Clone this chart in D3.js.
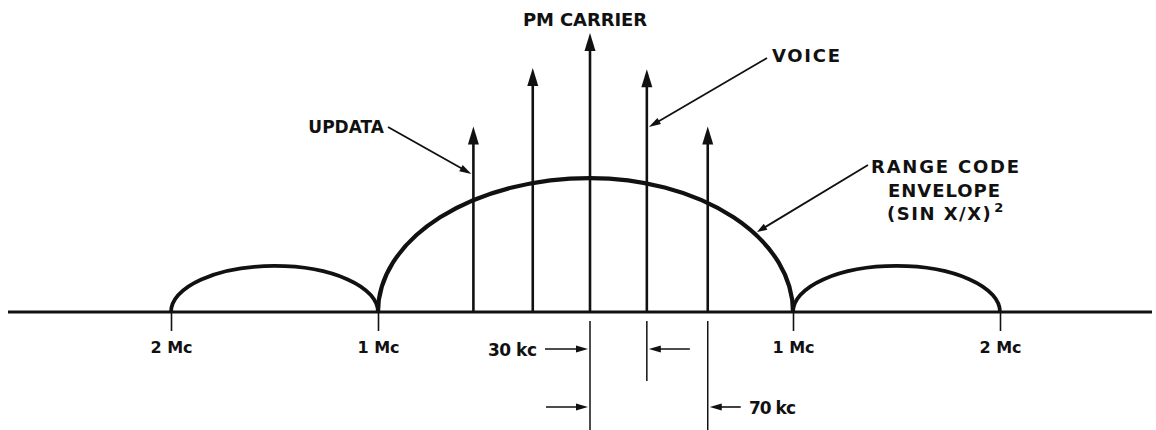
<!DOCTYPE html>
<html>
<head>
<meta charset="utf-8">
<script src="https://cdn.jsdelivr.net/npm/d3@7"></script>
<style>
  html, body { margin: 0; padding: 0; background: #fff; }
  svg { display: block; }
  text { font-family: "DejaVu Sans", "Liberation Sans", Arial, sans-serif; font-weight: bold; fill: #111; }
</style>
</head>
<body>
<svg id="chart" width="1156" height="430"></svg>
<script>
// ---- data (frequency offset from carrier in Mc, relative amplitude) ----
const tickPositions = [-2, -1, 1, 2];
const tickLabels = ["2 Mc", "1 Mc", "1 Mc", "2 Mc"];

const lineNames = ["UPDATA", "UPDATA 2", "PM CARRIER", "VOICE", "VOICE 2"];
const linePositions = [-0.55, -0.27, 0, 0.28, 0.58];
const lineHeights = [0.665, 0.875, 1.0, 0.87, 0.665];

const lobeStart = [-2, -1, 1];
const lobeEnd = [-1, 1, 2];
const lobePeakPos = [-1.5, 0, 1.5];
const lobeHeights = [0.165, 0.48, 0.165];

const dimLabels = ["30 kc", "70 kc"];
const dimFrom = [0, 0];
const dimTo = [0.28, 0.58];

// ---- scales ----
const svg = d3.select("#chart");
const x = d3.scaleLinear().domain([-2, -1, 0, 1, 2]).range([171, 378, 590, 793, 1000]);
const y = d3.scaleLinear().domain([0, 1]).range([312, 33]);
const ink = "#111";
const FONT = "DejaVu Sans, Liberation Sans, Arial, sans-serif";

function head(g, tx, ty, angle, len, wid) {
  const bx = tx - len * Math.cos(angle), by = ty - len * Math.sin(angle);
  const px = -Math.sin(angle) * wid / 2, py = Math.cos(angle) * wid / 2;
  g.append("path")
    .attr("d", `M${tx},${ty}L${bx + px},${by + py}L${bx - px},${by - py}Z`)
    .attr("fill", ink);
}

// ---- baseline axis ----
const axisG = svg.append("g").attr("transform", `translate(0,${y(0)})`);
const axis = d3.axisBottom(x).tickValues(tickPositions).tickSize(19)
  .tickFormat((d, i) => tickLabels[i]).tickPadding(10);
axisG.call(axis);
axisG.select(".domain").remove();
axisG.selectAll(".tick line").attr("stroke", ink).attr("stroke-width", 1.6);
axisG.selectAll(".tick text").attr("font-size", 16).attr("font-family", FONT)
  .attr("font-weight", "bold").attr("fill", ink).attr("dy", "0.75em");
svg.append("line").attr("x1", 8).attr("x2", 1152).attr("y1", y(0)).attr("y2", y(0))
  .attr("stroke", ink).attr("stroke-width", 3);

// ---- sin x / x envelope lobes ----
const lobes = lobeStart.map((s, i) => ({ s, e: lobeEnd[i], p: lobePeakPos[i], h: lobeHeights[i] }));
svg.append("g").selectAll("path").data(lobes).join("path")
  .attr("d", d => {
    const x0 = x(d.s), x1 = x(d.e), xc = x(d.p), yb = y(0), yt = y(d.h), r = yb - yt;
    return `M${x0},${yb}A${xc - x0},${r} 0 0 1 ${xc},${yt}A${x1 - xc},${r} 0 0 1 ${x1},${yb}`;
  })
  .attr("fill", "none").attr("stroke", ink)
  .attr("stroke-width", (d, i) => i === 1 ? 4.2 : 3.8);

// ---- spectral lines (arrows) ----
const lines = linePositions.map((p, i) => ({ p, h: lineHeights[i], name: lineNames[i] }));
const lg = svg.append("g");
lines.forEach(d => {
  const len = 18;
  lg.append("line").attr("x1", x(d.p)).attr("x2", x(d.p))
    .attr("y1", y(0)).attr("y2", y(d.h) + len - 2)
    .attr("stroke", ink).attr("stroke-width", 2.6);
  head(lg, x(d.p), y(d.h), -Math.PI / 2, len, 11);
});

// ---- labels & leaders ----
const ann = svg.append("g");
ann.append("text").attr("x", 585).attr("y", 26).attr("text-anchor", "middle")
  .attr("font-size", 18).attr("textLength", 124).text("PM CARRIER");

// VOICE
ann.append("text").attr("x", 772).attr("y", 62).attr("font-size", 18).attr("textLength", 68).text("VOICE");
{
  const x1 = 767, y1 = 58, x2 = x(linePositions[3]) + 2, y2 = 127;
  const a = Math.atan2(y2 - y1, x2 - x1);
  ann.append("line").attr("x1", x1).attr("y1", y1).attr("x2", x2 - 10 * Math.cos(a)).attr("y2", y2 - 10 * Math.sin(a))
    .attr("stroke", ink).attr("stroke-width", 1.8);
  head(ann, x2, y2, a, 12, 7);
}

// UPDATA
ann.append("text").attr("x", 384).attr("y", 133).attr("text-anchor", "end")
  .attr("font-size", 17).text("UPDATA");
{
  const x1 = 388, y1 = 127, x2 = x(linePositions[0]) - 2, y2 = 174;
  const a = Math.atan2(y2 - y1, x2 - x1);
  ann.append("line").attr("x1", x1).attr("y1", y1).attr("x2", x2 - 10 * Math.cos(a)).attr("y2", y2 - 10 * Math.sin(a))
    .attr("stroke", ink).attr("stroke-width", 1.8);
  head(ann, x2, y2, a, 12, 7);
}

// RANGE CODE ENVELOPE
ann.append("text").attr("x", 945).attr("y", 173).attr("text-anchor", "middle")
  .attr("font-size", 18).attr("textLength", 148).text("RANGE CODE");
ann.append("text").attr("x", 944).attr("y", 197).attr("text-anchor", "middle")
  .attr("font-size", 18).attr("textLength", 112).text("ENVELOPE");
const sinT = ann.append("text").attr("x", 887).attr("y", 220).attr("font-size", 18).attr("letter-spacing", 1.5);
sinT.append("tspan").text("(SIN X/X)");
sinT.append("tspan").attr("font-size", 13).attr("dx", 2).attr("dy", -8).text("2");
{
  const x1 = 868, y1 = 165, x2 = 757, y2 = 232;
  const a = Math.atan2(y2 - y1, x2 - x1);
  ann.append("line").attr("x1", x1).attr("y1", y1).attr("x2", x2 - 8 * Math.cos(a)).attr("y2", y2 - 8 * Math.sin(a))
    .attr("stroke", ink).attr("stroke-width", 1.8);
  head(ann, x2, y2, a, 10, 7);
}

// ---- dimension markers ----
const dg = svg.append("g");
const extBottom = [381, 430];
const leftLen = [43, 42];
const rightLen = [41, 31];
dg.append("line").attr("x1", x(0)).attr("x2", x(0)).attr("y1", 321).attr("y2", 430)
  .attr("stroke", ink).attr("stroke-width", 1.5);
dimTo.forEach((t, i) => {
  dg.append("line").attr("x1", x(t)).attr("x2", x(t)).attr("y1", 321).attr("y2", extBottom[i])
    .attr("stroke", ink).attr("stroke-width", 1.5);
});
const dimY = [349, 407];
dimLabels.forEach((lab, i) => {
  const xa = x(dimFrom[i]) - 2, xb = x(dimTo[i]) + 2, yy = dimY[i];
  dg.append("line").attr("x1", xa - leftLen[i]).attr("x2", xa - 8).attr("y1", yy).attr("y2", yy)
    .attr("stroke", ink).attr("stroke-width", 1.6);
  head(dg, xa, yy, 0, 12, 7);
  dg.append("line").attr("x1", xb + 8).attr("x2", xb + rightLen[i]).attr("y1", yy).attr("y2", yy)
    .attr("stroke", ink).attr("stroke-width", 1.6);
  head(dg, xb, yy, Math.PI, 12, 7);
});
dg.append("text").attr("x", 488).attr("y", dimY[0] + 7).attr("font-size", 17).attr("textLength", 49).text(dimLabels[0]);
dg.append("text").attr("x", 749).attr("y", dimY[1] + 7).attr("font-size", 17).attr("textLength", 47).text(dimLabels[1]);
</script>
</body>
</html>
